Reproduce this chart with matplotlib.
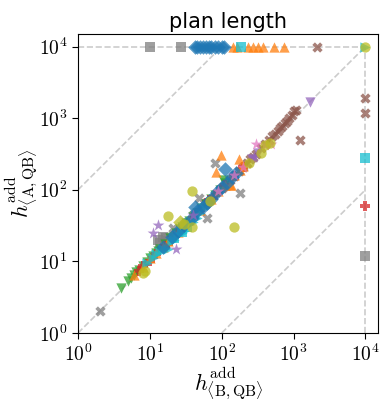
import matplotlib
matplotlib.use("Agg")
import matplotlib.pyplot as plt

plt.rcParams['mathtext.fontset'] = 'cm'

MISSING = 1e4
tick_vals = [1, 10, 100, 1000, 10000]
tick_labels = [r'$10^{0}$', r'$10^{1}$', r'$10^{2}$', r'$10^{3}$', r'$10^{4}$']

# --- data per domain group ---
gray_sq_x = [13, 16, 15, 18, 14, 17, 10, 27, MISSING]
gray_sq_y = [20, 17, 22, 19, 18, 21, MISSING, MISSING, 12]

gray_x_x = [2, 80, 49, 62, 21, 178, 30, 15, 40]
gray_x_y = [2, 234, 76, 41, 29, 89, 33, 16, 44]

brown_x = [60, 100, 130, 150, 175, 200, 225, 250, 275, 300, 350, 400, 450, 500, 550, 600, 650, 700, 750,
           800, 870, 950, 1000, 1080, 1230, 2130, MISSING, MISSING]
brown_y = [65, 105, 137, 155, 182, 210, 235, 265, 290, 320, 380, 440, 500, 560, 610, 670, 730, 790, 850,
           910, 990, 1100, 1240, 1290, 500, MISSING, 1900, 1170]

green_x = [4, 5, 5.5, 6, 6.5, 7, 8, 9, 10, 11, 12, 13, 14, 16, 19, 21, 23, 26, 28, 32, 35, 40, 45,
           52, 60, 70, 80, 95, 103, 110]
green_y = [4.2, 5.3, 5.8, 6.5, 7.0, 7.5, 8.6, 9.8, 11, 12, 13, 14, 15, 17.5, 21, 22, 25, 28, 30, 34, 37, 42, 47,
           55, 63, 74, 85, 100, 135, 125]

red_x = [7, 8, 10, 12, 16, 20, 25, 30, 40, 50, 66, 75, 90, 110, 150, 200, MISSING]
red_y = [7.3, 8.5, 10.2, 12.5, 16.5, 21, 25, 31, 41, 52, 71, 78, 93, 115, 155, 205, 60]

orange_x = [6, 8, 10, 12, 15, 18, 25, 35, 50, 70, 90, 110, 130, 150, 180, 200, 97, 82, 172, 133,
            142, 165, 230, 270, 318, 375, 535, 740]
orange_y = [6.4, 8.4, 11, 13, 16, 19, 26, 38, 53, 74, 95, 117, 115, 160, 190, 215, 310, 180, 265, 115,
            MISSING, MISSING, MISSING, MISSING, MISSING, MISSING, MISSING, MISSING]

cyan_tri_x = [9, 11, 12, 14, 15, 18, 20, 22, 25, 28, 30, 35, 40, 45, 50, 56, MISSING]
cyan_tri_y = [9.5, 11, 12.5, 13.5, 15, 15, 19, 20, 23, 25, 27, 33, 36, 41, 47, 55, MISSING]

cyan_sq_x = [185, MISSING, 22, 28, 33]
cyan_sq_y = [MISSING, 282, 21, 26, 30]

blue_x = [15, 20, 25, 30, 38, 43, 45, 55, 62, 70, 85, 100, 110, 120, 140, 160,
          42, 46, 50, 55, 60, 66, 72, 80, 90, 100, 108]
blue_y = [16, 22, 27, 32, 40, 57, 50, 58, 66, 75, 92, 110, 193, 125, 150, 170,
          MISSING, MISSING, MISSING, MISSING, MISSING, MISSING, MISSING, MISSING, MISSING, MISSING, MISSING]

purple_star_x = [13, 11, 23, 280, 40]
purple_star_y = [32, 25, 15, 283, 45]

purple_tri_x = [1700, 260, 320]
purple_tri_y = [1700, 270, 330]

pink_x = [296, 485, 400, 200, 150, 90]
pink_y = [430, 430, 420, 210, 160, 95]

olive_x = [470, 350, 240, 68, 147, 38, 18, 39, 8.1, 8.6, 400, 30, MISSING]
olive_y = [457, 330, 235, 69, 30, 95, 43, 30, 6.8, 7.3, 420, 33, MISSING]

olive_d_x = [26]
olive_d_y = [36]

groups = [
    (gray_sq_x, gray_sq_y, 'tab:gray', 's'),
    (gray_x_x, gray_x_y, 'tab:gray', 'X'),
    (brown_x, brown_y, 'tab:brown', 'X'),
    (green_x, green_y, 'tab:green', 'v'),
    (red_x, red_y, 'tab:red', 'P'),
    (orange_x, orange_y, 'tab:orange', '^'),
    (cyan_tri_x, cyan_tri_y, 'tab:cyan', '>'),
    (cyan_sq_x, cyan_sq_y, 'tab:cyan', 's'),
    (blue_x, blue_y, 'tab:blue', 'D'),
    (purple_star_x, purple_star_y, 'tab:purple', '*'),
    (purple_tri_x, purple_tri_y, 'tab:purple', 'v'),
    (pink_x, pink_y, 'tab:pink', '*'),
    (olive_x, olive_y, 'tab:olive', 'o'),
    (olive_d_x, olive_d_y, 'tab:olive', 'D'),
]

fig = plt.figure(figsize=(3.87, 4.03), dpi=100)
ax = fig.add_axes([0.2016, 0.1737, 0.7754, 0.742])

lc = '#cccccc'
ax.plot([1, MISSING], [1, MISSING], ls='--', color=lc, lw=1.2, zorder=1)
ax.plot([1, 100], [100, MISSING], ls='--', color=lc, lw=1.2, zorder=1)
ax.plot([100, MISSING], [1, 100], ls='--', color=lc, lw=1.2, zorder=1)
ax.plot([1, MISSING], [MISSING, MISSING], ls='--', color=lc, lw=1.2, zorder=1)
ax.plot([MISSING, MISSING], [1, MISSING], ls='--', color=lc, lw=1.2, zorder=1)

for gx, gy, c, m in groups:
    s = 80 if m == '*' else 55
    ax.scatter(gx, gy, color=c, marker=m, s=s, alpha=0.75, linewidths=0, zorder=2)

ax.set_xscale('log')
ax.set_yscale('log')
ax.set_xlim(1, 1.5e4)
ax.set_ylim(1, 1.5e4)
ax.set_xticks(tick_vals)
ax.set_xticklabels(tick_labels)
ax.set_yticks(tick_vals)
ax.set_yticklabels(tick_labels)
ax.minorticks_off()
ax.tick_params(labelsize=14, length=4, direction='out')

ax.set_xlabel(r'$h^{\mathrm{add}}_{\langle \mathrm{B,QB}\rangle}$', fontsize=16, labelpad=0)
ax.set_ylabel(r'$h^{\mathrm{add}}_{\langle \mathrm{A,QB}\rangle}$', fontsize=16, labelpad=0)
ax.set_title('plan length', fontsize=15, pad=4)

fig.savefig('out.png', dpi=100)
